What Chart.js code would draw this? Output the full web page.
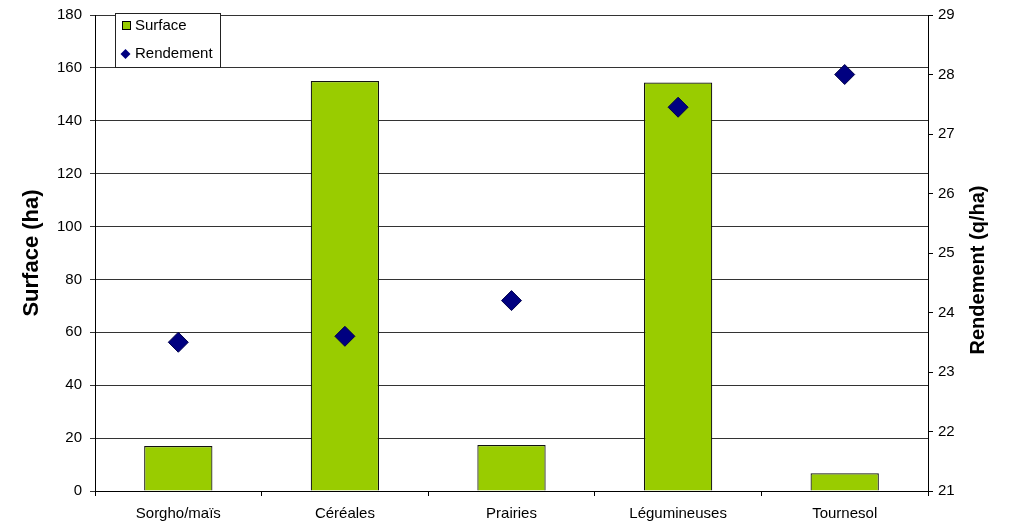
<!DOCTYPE html>
<html>
<head>
<meta charset="utf-8">
<script src="https://cdn.jsdelivr.net/npm/chart.js@4.4.1/dist/chart.umd.min.js"></script>
<style>
	body { margin: 0; background: #fff; }
	canvas { display: block; }
</style>
</head>
<body>
<canvas id="chartSurface" width="1011" height="524"></canvas>
<script>
// categories et valeurs
const cultures = ['Sorgho/maïs', 'Céréales', 'Prairies', 'Légumineuses', 'Tournesol'];
const surfaceHa = [17, 155, 17.4, 154.5, 6.7];
const rendementQha = [23.5, 23.6, 24.2, 27.45, 28.0];

const ticksSurface = { min: 0, max: 180, step: 20 };
const ticksRendement = { min: 21, max: 29, step: 1 };

const family = 'Arial, "Liberation Sans", sans-serif';
const fontTicks = { family: family, size: 15 };

// légende encadrée dans la zone du graphique, comme Excel
const legendBox = {
	id: 'legendBox',
	afterDraw(chart) {
		const ctx = chart.ctx;
		const x = 115, y = 13, w = 105, h = 54;
		ctx.save();
		ctx.fillStyle = '#fff';
		ctx.strokeStyle = '#222';
		ctx.lineWidth = 1;
		ctx.fillRect(x, y, w, h);
		ctx.strokeRect(x + 0.5, y + 0.5, w, h);
		ctx.font = '15px ' + family;
		ctx.textBaseline = 'middle';
		chart.data.datasets.forEach((ds, i) => {
			const cy = y + 13 + i * 28;
			if (ds.type === 'bar') {
				ctx.fillStyle = ds.backgroundColor;
				ctx.fillRect(x + 7, cy - 5, 9, 9);
				ctx.strokeStyle = '#000';
				ctx.strokeRect(x + 7.5, cy - 4.5, 8, 8);
			} else {
				ctx.fillStyle = ds.backgroundColor;
				ctx.beginPath();
				ctx.moveTo(x + 10.5, cy - 5);
				ctx.lineTo(x + 15.5, cy);
				ctx.lineTo(x + 10.5, cy + 5);
				ctx.lineTo(x + 5.5, cy);
				ctx.closePath();
				ctx.fill();
			}
			ctx.fillStyle = '#000';
			ctx.fillText(ds.label, x + 20, cy);
		});
		ctx.restore();
	}
};

// titre de l'axe de droite écrit de bas en haut (Chart.js le tourne dans l'autre sens)
const rightTitle = {
	id: 'rightTitle',
	afterDraw(chart) {
		const scale = chart.scales.yRendement;
		const ctx = chart.ctx;
		ctx.save();
		ctx.translate(978, (chart.chartArea.top + chart.chartArea.bottom) / 2 + 17);
		ctx.rotate(-Math.PI / 2);
		ctx.font = 'bold 20px ' + family;
		ctx.fillStyle = '#000';
		ctx.textAlign = 'center';
		ctx.textBaseline = 'middle';
		ctx.fillText(scale.options.title.text, 0, 0);
		ctx.restore();
	}
};

// largeur fixe des axes verticaux, sans marge ajoutée pour les étiquettes
const fitY = (width) => (scale) => {
	scale.width = width;
	scale.paddingTop = 0;
	scale.paddingBottom = 0;
};

const data = {
	labels: cultures,
	datasets: [
		{
			type: 'bar',
			label: 'Surface',
			data: surfaceHa,
			yAxisID: 'ySurface',
			backgroundColor: '#99cc00',
			borderColor: '#111',
			borderWidth: 1.2,
			barPercentage: 0.41,
			categoryPercentage: 1,
			order: 2
		},
		{
			type: 'line',
			label: 'Rendement',
			data: rendementQha,
			yAxisID: 'yRendement',
			showLine: false,
			pointStyle: 'rectRot',
			pointRadius: 10,
			pointHoverRadius: 10,
			backgroundColor: '#000080',
			borderColor: '#00004a',
			borderWidth: 1,
			order: 1
		}
	]
};

const config = {
	data: data,
	plugins: [legendBox, rightTitle],
	options: {
		responsive: false,
		animation: false,
		layout: { padding: { top: 15, left: 0, right: 0, bottom: 0 } },
		plugins: {
			legend: { display: false },
			tooltip: { enabled: false }
		},
		scales: {
			x: {
				offset: true,
				afterFit: (scale) => { scale.height = 33; },
				grid: { offset: true, drawOnChartArea: false, drawTicks: true, tickLength: 5, color: '#000' },
				border: { color: '#000', width: 1 },
				ticks: { color: '#000', font: fontTicks, padding: 9, maxRotation: 0 }
			},
			ySurface: {
				position: 'left',
				min: ticksSurface.min,
				max: ticksSurface.max,
				afterFit: fitY(95),
				grid: { color: '#333', lineWidth: 1, tickLength: 5 },
				border: { color: '#000', width: 1 },
				ticks: { stepSize: ticksSurface.step, color: '#000', font: fontTicks, padding: 8 },
				title: { display: true, text: 'Surface (ha)', color: '#000', font: { family: family, size: 22, weight: 'bold' }, padding: { top: 19 } }
			},
			yRendement: {
				position: 'right',
				min: ticksRendement.min,
				max: ticksRendement.max,
				afterFit: fitY(83),
				grid: { drawOnChartArea: false, tickLength: 5, color: '#000' },
				border: { color: '#000', width: 1 },
				ticks: { stepSize: ticksRendement.step, color: '#000', font: fontTicks, padding: 5 },
				title: { display: false, text: 'Rendement (q/ha)' }
			}
		}
	}
};

new Chart(document.getElementById('chartSurface'), config);
</script>
</body>
</html>
